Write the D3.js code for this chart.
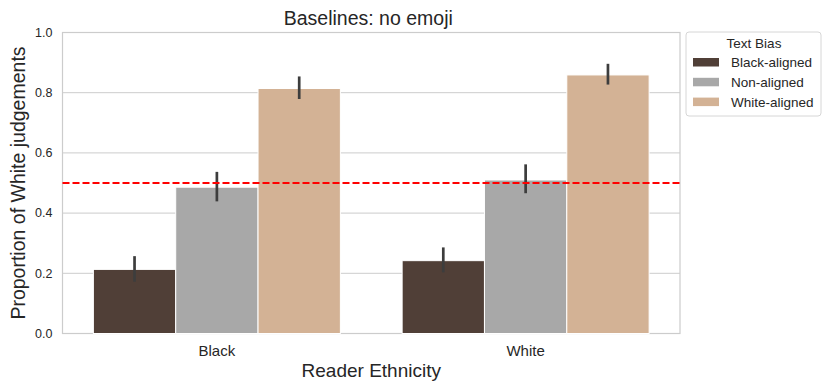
<!DOCTYPE html>
<html lang="en">
<head>
  <meta charset="UTF-8">
  <script src="https://d3js.org/d3.v7.min.js" charset="utf-8"></script>
  <title>Baselines: no emoji</title>
  <style>
    body { margin: 0; background: #fff; }
    text { font-family: "Liberation Sans", Arial, sans-serif; fill: #262626; }
  </style>
</head>
<body>
  <div class="chart"></div>
  <script>
    const readers = ['Black', 'White'];
    const biases = ['Black-aligned', 'Non-aligned', 'White-aligned'];
    const colors = ['#503f37', '#a8a8a8', '#d3b295'];
    // mean proportion per reader ethnicity, one array per text bias
    const blackAligned = [0.213, 0.242];
    const nonAligned = [0.486, 0.510];
    const whiteAligned = [0.814, 0.859];
    // 95% CI low/high
    const ciLow = [[0.172, 0.203], [0.439, 0.466], [0.779, 0.827]];
    const ciHigh = [[0.257, 0.286], [0.537, 0.562], [0.854, 0.896]];
    const yTicks = [0, 0.2, 0.4, 0.6, 0.8, 1.0];
    const refLine = 0.5;

    const means = [blackAligned, nonAligned, whiteAligned];
    const width = 831, height = 392;
    const margin = { top: 32.5, right: 151, bottom: 58.5, left: 62.5 };

    const svg = d3.select('.chart').append('svg')
      .attr('width', width).attr('height', height);

    const x0 = d3.scaleBand().domain(readers)
      .range([margin.left, width - margin.right]).padding(0);
    const x1 = d3.scaleBand().domain(biases)
      .range([0, x0.bandwidth() * 0.8]);
    const y = d3.scaleLinear().domain([0, 1])
      .range([height - margin.bottom, margin.top]);

    // grid
    svg.append('g').selectAll('line').data(yTicks).join('line')
      .attr('x1', margin.left).attr('x2', width - margin.right)
      .attr('y1', d => y(d)).attr('y2', d => y(d))
      .attr('stroke', '#cccccc').attr('stroke-width', 1);

    // frame
    svg.append('rect')
      .attr('x', margin.left).attr('y', margin.top)
      .attr('width', width - margin.right - margin.left)
      .attr('height', y(0) - y(1))
      .attr('fill', 'none').attr('stroke', '#cccccc').attr('stroke-width', 1.2);

    const rows = [];
    biases.forEach((b, i) => readers.forEach((r, j) => {
      rows.push({ bias: b, reader: r, i, v: means[i][j], lo: ciLow[i][j], hi: ciHigh[i][j] });
    }));
    const barX = d => x0(d.reader) + x0.bandwidth() * 0.1 + x1(d.bias);

    svg.append('g').selectAll('rect').data(rows).join('rect')
      .attr('x', barX)
      .attr('width', x1.bandwidth())
      .attr('y', d => y(d.v))
      .attr('height', d => y(0) - y(d.v))
      .attr('fill', d => colors[d.i])
      .attr('stroke', '#ffffff').attr('stroke-width', 1);

    svg.append('g').selectAll('line').data(rows).join('line')
      .attr('x1', d => barX(d) + x1.bandwidth() / 2)
      .attr('x2', d => barX(d) + x1.bandwidth() / 2)
      .attr('y1', d => y(d.lo)).attr('y2', d => y(d.hi))
      .attr('stroke', '#3d3d3d').attr('stroke-width', 2.7)
      .attr('stroke-linecap', 'butt');

    svg.append('line')
      .attr('x1', margin.left).attr('x2', width - margin.right)
      .attr('y1', y(refLine)).attr('y2', y(refLine))
      .attr('stroke', '#ff0000').attr('stroke-width', 2)
      .attr('stroke-dasharray', '7,3');

    // y axis ticks
    svg.append('g').selectAll('text').data(yTicks).join('text')
      .attr('x', margin.left - 10).attr('y', d => y(d))
      .attr('dy', '0.35em').attr('text-anchor', 'end')
      .style('font-size', '12.5px')
      .text(d => d3.format('.1f')(d));

    // x axis ticks
    svg.append('g').selectAll('text').data(readers).join('text')
      .attr('x', d => x0(d) + x0.bandwidth() / 2).attr('y', y(0) + 22)
      .attr('text-anchor', 'middle')
      .style('font-size', '15px')
      .text(d => d);

    svg.append('text')
      .attr('x', (margin.left + width - margin.right) / 2).attr('y', 377)
      .attr('text-anchor', 'middle').style('font-size', '19px')
      .text('Reader Ethnicity');

    svg.append('text')
      .attr('transform', `translate(25,${(y(0) + y(1)) / 2}) rotate(-90)`)
      .attr('text-anchor', 'middle').style('font-size', '19.5px')
      .text('Proportion of White judgements');

    svg.append('text')
      .attr('x', (margin.left + width - margin.right) / 2 - 3).attr('y', 25)
      .attr('text-anchor', 'middle').style('font-size', '19.5px')
      .text('Baselines: no emoji');

    // legend
    const lg = svg.append('g').attr('transform', 'translate(686,32)');
    lg.append('rect').attr('width', 135).attr('height', 84).attr('rx', 3)
      .attr('fill', '#fff').attr('stroke', '#d6d6d6').attr('stroke-width', 1);
    lg.append('text').attr('x', 68).attr('y', 16)
      .attr('text-anchor', 'middle').style('font-size', '13.5px').text('Text Bias');
    const items = lg.selectAll('g.item').data(biases).join('g')
      .attr('transform', (d, i) => `translate(7,${26 + i * 19.8})`);
    items.append('rect').attr('width', 26).attr('height', 8.5)
      .attr('fill', (d, i) => colors[i]);
    items.append('text').attr('x', 38).attr('y', 4.5).attr('dy', '0.35em')
      .style('font-size', '13.5px').text(d => d);
  </script>
</body>
</html>
